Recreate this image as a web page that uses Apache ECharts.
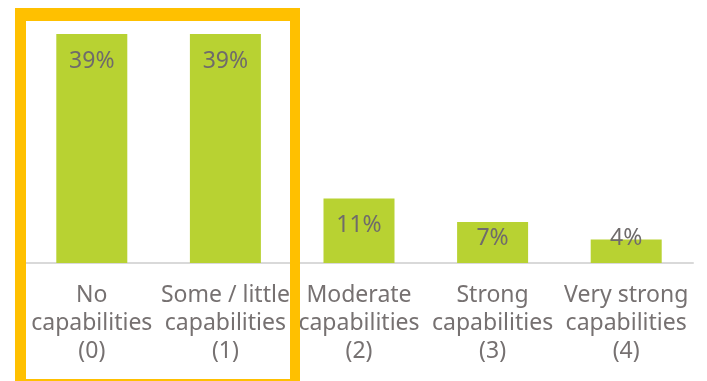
<!DOCTYPE html>
<html><head><meta charset="utf-8">
<script src="https://cdn.jsdelivr.net/npm/echarts@6/dist/echarts.min.js"></script>
<style>html,body{margin:0;padding:0;background:#fff}#c{width:707px;height:381px}</style>
</head><body><div id="c"></div>
<script>
const categories = ["No\ncapabilities\n(0)", "Some / little\ncapabilities\n(1)", "Moderate\ncapabilities\n(2)", "Strong\ncapabilities\n(3)", "Very strong\ncapabilities\n(4)"];
const values = [39, 39, 11, 7, 4];
const labelShift = [0, 0, 0, -11, -29];

const chart = echarts.init(document.getElementById('c'));
const font = '"Noto Sans", sans-serif';
chart.setOption({
  animation: false,
  grid: { left: 25, right: 14, top: 34, bottom: 118, containLabel: false },
  xAxis: {
    type: 'category', data: categories,
    axisLine: { lineStyle: { color: '#d9d9d9', width: 2 } },
    axisTick: { show: false },
    axisLabel: { color: '#767171', fontSize: 23, lineHeight: 28, fontFamily: font, margin: 18, interval: 0 }
  },
  yAxis: { type: 'value', min: 0, max: 39, show: false, splitLine: { show: false } },
  series: [{
    type: 'bar', barWidth: 71,
    data: values.map((v, i) => ({ value: v, label: { offset: [0, labelShift[i]] } })),
    itemStyle: { color: '#b8d232' },
    label: { show: true, position: 'insideTop', distance: 16, formatter: '{c}%', color: '#6f6b6b', fontSize: 23, fontFamily: font }
  }],
  graphic: [
    { type: 'rect', shape: { x: 15, y: 8, width: 11, height: 373 }, style: { fill: '#ffc000' }, z: 100 },
    { type: 'rect', shape: { x: 15, y: 8, width: 285, height: 13 }, style: { fill: '#ffc000' }, z: 100 },
    { type: 'rect', shape: { x: 290, y: 8, width: 10, height: 373 }, style: { fill: '#ffc000' }, z: 100 },
    { type: 'rect', shape: { x: 15, y: 379, width: 285, height: 4 }, style: { fill: '#ffc000' }, z: 100 }
  ]
});
</script></body></html>
